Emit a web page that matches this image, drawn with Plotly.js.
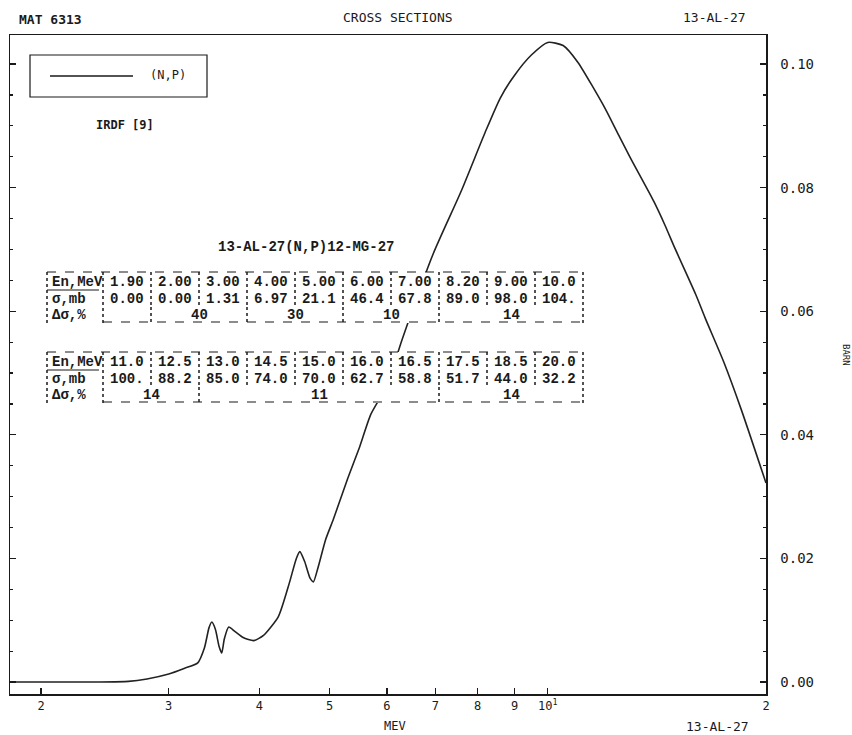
<!DOCTYPE html>
<html>
<head>
<meta charset="utf-8">
<script src="https://cdn.plot.ly/plotly-3.0.1.min.js"></script>
<style>html,body{margin:0;padding:0;background:#fff;}#chart{width:852px;height:735px;}</style>
</head>
<body>
<div id="chart"></div>
<script>
// ---- curve data (MeV, barn) ----
const energyMeV = [1.80, 2.0, 2.4, 2.64, 2.8, 3.0, 3.15, 3.29, 3.36, 3.41, 3.44, 3.48, 3.52, 3.55, 3.58, 3.63, 3.70, 3.80, 3.93, 4.05, 4.25, 4.40, 4.50, 4.55, 4.62, 4.70, 4.75, 4.82, 4.94, 5.06, 5.3, 5.5, 5.7, 6.0, 6.3, 6.95, 7.6, 8.2, 8.6, 9.0, 9.5, 10.0, 10.5, 11.0, 12.0, 12.5, 13.0, 14.0, 14.5, 15.0, 16.0, 16.5, 17.5, 18.5, 20.0];
const sigmaBarn = [0, 0, 0, 0.0001, 0.0005, 0.0013, 0.0022, 0.0031, 0.0055, 0.0088, 0.0097, 0.0085, 0.0058, 0.0047, 0.0070, 0.0089, 0.0082, 0.0072, 0.0067, 0.0075, 0.0106, 0.0160, 0.0200, 0.0211, 0.0195, 0.0168, 0.0162, 0.0185, 0.0231, 0.0263, 0.0330, 0.0380, 0.0433, 0.0480, 0.0555, 0.0693, 0.0795, 0.0890, 0.0945, 0.0982, 0.1015, 0.1035, 0.1030, 0.1003, 0.0928, 0.0887, 0.0848, 0.0778, 0.0740, 0.0700, 0.0627, 0.0588, 0.0517, 0.0440, 0.0322];

// ---- tick labels ----
const xTickVals = [2, 3, 4, 5, 6, 7, 8, 9, 10, 20];
const xTickText = ['2', '3', '4', '5', '6', '7', '8', '9', '10<sup>1</sup>', '2'];
const yTickVals = [0, 0.02, 0.04, 0.06, 0.08, 0.10];
const yTickText = ['0.00', '0.02', '0.04', '0.06', '0.08', '0.10'];

// ---- table data ----
const rowLabels = ['En,MeV', 'σ,mb', 'Δσ,%'];
const t1En = ['1.90', '2.00', '3.00', '4.00', '5.00', '6.00', '7.00', '8.20', '9.00', '10.0'];
const t1Sig = ['0.00', '0.00', '1.31', '6.97', '21.1', '46.4', '67.8', '89.0', '98.0', '104.'];
const t1Unc = ['40', '30', '10', '14'];
const t1UncSpan = [[1, 3], [3, 5], [5, 7], [7, 10]];
const t2En = ['11.0', '12.5', '13.0', '14.5', '15.0', '16.0', '16.5', '17.5', '18.5', '20.0'];
const t2Sig = ['100.', '88.2', '85.0', '74.0', '70.0', '62.7', '58.8', '51.7', '44.0', '32.2'];
const t2Unc = ['14', '11', '14'];
const t2UncSpan = [[0, 2], [2, 7], [7, 10]];
const tableTitle = '13-AL-27(N,P)12-MG-27';

// ---- geometry helpers (pixel -> paper) ----
const L = 10, R = 766, T = 35, B = 694, W = 852, H = 735;
const px = x => (x - L) / (R - L);
const py = y => (B - y) / (B - T);
const ink = '#1a1a1a';
const mono = 'DejaVu Sans Mono, monospace';
const tfont = {family: 'Liberation Mono, DejaVu Sans Mono, monospace', size: 14, color: ink, weight: 'bold'};

const shapes = [];
const annotations = [];
function text(x, y, t, opts) {
  annotations.push(Object.assign({xref: 'paper', yref: 'paper', x: px(x), y: py(y), text: t, showarrow: false,
    xanchor: 'center', yanchor: 'middle', font: {family: mono, size: 13, color: ink}}, opts || {}));
}
function line(x0, y0, x1, y1, opts) {
  shapes.push(Object.assign({type: 'line', xref: 'paper', yref: 'paper', x0: px(x0), y0: py(y0), x1: px(x1), y1: py(y1),
    line: {color: ink, width: 1.2}, layer: 'above'}, opts || {}));
}

// headers
text(50, 19, 'MAT 6313', {font: {family: mono, size: 13, color: ink, weight: 'bold'}});
text(398, 17, 'CROSS SECTIONS', {font: {family: mono, size: 13, color: ink}});
text(714, 17, '13-AL-27', {font: {family: mono, size: 13, color: ink}});
text(395, 726, 'MEV', {font: {family: mono, size: 12, color: ink}});
text(717, 726, '13-AL-27', {font: {family: mono, size: 13, color: ink}});
text(846, 355, 'BARN', {textangle: 90, font: {family: mono, size: 9, color: ink}});

// legend box
shapes.push({type: 'rect', xref: 'paper', yref: 'paper', x0: px(30), y0: py(97), x1: px(207), y1: py(55),
  line: {color: ink, width: 1.2}, fillcolor: 'rgba(0,0,0,0)', layer: 'above'});
line(50, 76, 133, 76, {line: {color: ink, width: 1.5}});
text(168, 75, '(N,P)', {font: {family: mono, size: 12, color: ink}});
text(125, 125, 'IRDF [9]', {font: {family: mono, size: 12, color: ink, weight: 'bold'}});

// tables
const TL = 47, TR = 583, labelW = 56;
const cellW = (TR - TL - labelW) / 10;
const cx = i => TL + labelW + cellW * i;
text(306, 247, tableTitle, {font: {family: 'Liberation Mono, monospace', size: 14, color: ink, weight: 'bold'}});

function drawTable(r1, en, sig, unc, spans) {
  const r2 = r1 + 16.5, r3 = r1 + 33;
  const top = r1 - 10, bot = r3 + 8;
  shapes.push({type: 'rect', xref: 'paper', yref: 'paper', x0: px(TL - 2), y0: py(bot), x1: px(TR + 2), y1: py(top),
    line: {width: 0}, fillcolor: '#ffffff', layer: 'above'});
  line(TL, top, TR, top, {line: {color: ink, width: 1.2, dash: 'dash'}});
  line(TL + labelW, r3 + 7, TR, r3 + 7, {line: {color: ink, width: 1.2, dash: 'dash'}});
  line(TL, r1 + 8, TL + labelW - 4, r1 + 8, {line: {color: ink, width: 1.2}});
  const dotted = {line: {color: ink, width: 1.5, dash: 'dot'}};
  line(TL, top, TL, bot, dotted);
  line(TR, top, TR, bot, dotted);
  line(TL + labelW, top, TL + labelW, bot, dotted);
  for (let i = 1; i < 10; i++) line(cx(i), top, cx(i), r2 + 8, dotted);
  spans.forEach(s => { if (s[0] > 0) line(cx(s[0]), r3 - 8, cx(s[0]), r3 + 8, dotted); });
  rowLabels.forEach((lab, k) => text(TL + 3, r1 + 16.5 * k, lab, {xanchor: 'left', font: tfont}));
  en.forEach((v, i) => text(cx(i) + cellW / 2, r1, v, {font: tfont}));
  sig.forEach((v, i) => text(cx(i) + cellW / 2, r2, v, {font: tfont}));
  unc.forEach((v, k) => text((cx(spans[k][0]) + cx(spans[k][1])) / 2, r3, v, {font: tfont}));
}
drawTable(282, t1En, t1Sig, t1Unc, t1UncSpan);
drawTable(362, t2En, t2Sig, t2Unc, t2UncSpan);

const trace = {x: energyMeV, y: sigmaBarn, type: 'scatter', mode: 'lines', line: {color: '#222', width: 1.6, shape: 'spline', smoothing: 0.6}, hoverinfo: 'x+y'};

const layout = {
  width: W, height: H,
  margin: {l: L, r: W - R, t: T, b: H - B, pad: 0},
  paper_bgcolor: '#fff', plot_bgcolor: '#fff',
  showlegend: false,
  xaxis: {type: 'log', range: [0.2582, Math.log10(20)], tickmode: 'array', tickvals: xTickVals, ticktext: xTickText,
    ticks: 'inside', ticklen: 6, tickwidth: 1.2, tickcolor: ink, showline: true, linecolor: ink, linewidth: 1.5, mirror: true,
    showgrid: false, zeroline: false, tickfont: {family: mono, size: 12, color: ink}},
  yaxis: {side: 'right', range: [-0.00194, 0.1047], tickmode: 'array', tickvals: yTickVals, ticktext: yTickText,
    ticks: 'inside', ticklen: 6, tickwidth: 1.2, tickcolor: ink, showline: true, linecolor: ink, linewidth: 1.5, mirror: 'ticks',
    showgrid: false, zeroline: false, ticklabelstandoff: 10, tickfont: {family: mono, size: 14, color: ink},
    minor: {ticks: 'inside', ticklen: 3, dtick: 0.005, tickcolor: ink, showgrid: false}},
  shapes: shapes,
  annotations: annotations
};

Plotly.newPlot('chart', [trace], layout, {displayModeBar: false, staticPlot: true});
</script>
</body>
</html>
